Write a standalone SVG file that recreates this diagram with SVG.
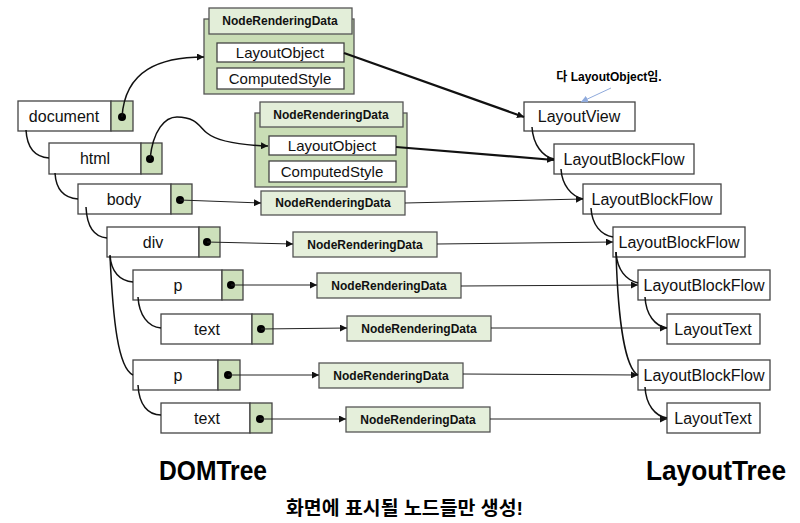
<svg xmlns="http://www.w3.org/2000/svg" width="800" height="523" viewBox="0 0 800 523">
<defs>
<marker id="arr" viewBox="0 0 10 10" refX="10" refY="5" markerWidth="7" markerHeight="7" markerUnits="userSpaceOnUse" orient="auto"><path d="M0,0 L10,5 L0,10 z" fill="#111"/></marker>
<marker id="arrB" viewBox="0 0 10 10" refX="10" refY="5" markerWidth="7" markerHeight="7" markerUnits="userSpaceOnUse" orient="auto"><path d="M0,0 L10,5 L0,10 z" fill="#8faadc"/></marker>
<style>
.w{fill:#fff;stroke:#444;stroke-width:1.3}
.g{fill:#cde0bb;stroke:#444;stroke-width:1.3}
.c{fill:#c9ddb5;stroke:#555;stroke-width:1.3}
.h{fill:#e3eed9;stroke:#555;stroke-width:1.3}
.n{fill:#e5efdb;stroke:#555;stroke-width:1.3}
.t{font-family:"Liberation Sans","Noto Sans",sans-serif;font-size:16px;fill:#111;text-anchor:middle}
.s{font-family:"Liberation Sans","Noto Sans",sans-serif;font-size:15px;fill:#111;text-anchor:middle}
.b{font-family:"Liberation Sans","Noto Sans",sans-serif;font-size:12px;font-weight:bold;fill:#111;text-anchor:middle}
.big{font-family:"Liberation Sans","Noto Sans",sans-serif;font-size:28px;font-weight:bold;fill:#000}
.k{font-family:"Liberation Sans","Noto Sans CJK KR",sans-serif;font-weight:bold;fill:#000}
.tree{fill:none;stroke:#111;stroke-width:1.5}
.ln{fill:none;stroke:#222;stroke-width:1}
.thick{fill:none;stroke:#111;stroke-width:2.2}
.dot{fill:#000}
</style>
</defs>

<!-- DOM tree nodes -->
<g id="dom-document"><rect class="w" x="18" y="101" width="93" height="30"/><rect class="g" x="111" y="101" width="22" height="30"/><text class="t" x="64" y="122">document</text><circle class="dot" cx="122" cy="117" r="4"/></g>
<g id="dom-html"><rect class="w" x="49" y="143" width="92" height="31"/><rect class="g" x="141" y="143" width="21" height="31"/><text class="t" x="95" y="164">html</text><circle class="dot" cx="150" cy="159" r="4"/></g>
<g id="dom-body"><rect class="w" x="78" y="184" width="93" height="30"/><rect class="g" x="171" y="184" width="21" height="30"/><text class="t" x="124" y="205">body</text><circle class="dot" cx="180" cy="200" r="4"/></g>
<g id="dom-div"><rect class="w" x="107" y="227" width="92" height="30"/><rect class="g" x="199" y="227" width="21" height="30"/><text class="t" x="153" y="248">div</text><circle class="dot" cx="207" cy="242" r="4"/></g>
<g id="dom-p1"><rect class="w" x="133" y="270" width="89" height="30"/><rect class="g" x="222" y="270" width="21" height="30"/><text class="t" x="178" y="291">p</text><circle class="dot" cx="231" cy="285" r="4"/></g>
<g id="dom-text1"><rect class="w" x="161" y="314" width="91" height="30"/><rect class="g" x="252" y="314" width="21" height="30"/><text class="t" x="207" y="335">text</text><circle class="dot" cx="261" cy="329" r="4"/></g>
<g id="dom-p2"><rect class="w" x="133" y="360" width="85" height="30"/><rect class="g" x="218" y="360" width="22" height="30"/><text class="t" x="178" y="381">p</text><circle class="dot" cx="228" cy="375" r="4"/></g>
<g id="dom-text2"><rect class="w" x="161" y="403" width="89" height="30"/><rect class="g" x="250" y="403" width="22" height="30"/><text class="t" x="207" y="424">text</text><circle class="dot" cx="260" cy="419" r="4"/></g>

<!-- NodeRenderingData -->
<g id="nrd-document"><rect class="c" x="204" y="19" width="150" height="75"/><rect class="h" x="209" y="8" width="143" height="26"/><text class="b" x="280" y="25">NodeRenderingData</text>
<rect class="w" x="217" y="43" width="127" height="19"/><text class="s" x="280" y="58">LayoutObject</text>
<rect class="w" x="217" y="68" width="127" height="21"/><text class="s" x="280" y="84">ComputedStyle</text></g>
<g id="nrd-html"><rect class="c" x="255" y="113" width="152" height="74"/><rect class="h" x="260" y="102" width="143" height="25"/><text class="b" x="331" y="119">NodeRenderingData</text>
<rect class="w" x="269" y="136" width="127" height="19"/><text class="s" x="332" y="151">LayoutObject</text>
<rect class="w" x="269" y="161" width="127" height="21"/><text class="s" x="332" y="177">ComputedStyle</text></g>
<g id="nrd-body"><rect class="n" x="261" y="191" width="144" height="24"/><text class="b" x="333" y="207">NodeRenderingData</text></g>
<g id="nrd-div"><rect class="n" x="293" y="232" width="144" height="25"/><text class="b" x="365" y="249">NodeRenderingData</text></g>
<g id="nrd-p1"><rect class="n" x="317" y="273" width="144" height="25"/><text class="b" x="389" y="290">NodeRenderingData</text></g>
<g id="nrd-text1"><rect class="n" x="347" y="316" width="144" height="25"/><text class="b" x="419" y="333">NodeRenderingData</text></g>
<g id="nrd-p2"><rect class="n" x="319" y="363" width="144" height="25"/><text class="b" x="391" y="380">NodeRenderingData</text></g>
<g id="nrd-text2"><rect class="n" x="346" y="407" width="144" height="25"/><text class="b" x="418" y="424">NodeRenderingData</text></g>

<!-- Layout tree -->
<g id="lt-view"><rect class="w" x="524" y="102" width="111" height="29"/><text class="t" x="579" y="122">LayoutView</text></g>
<g id="lt-block1"><rect class="w" x="554" y="144" width="140" height="30"/><text class="t" x="624" y="165">LayoutBlockFlow</text></g>
<g id="lt-block2"><rect class="w" x="583" y="184" width="138" height="30"/><text class="t" x="652" y="205">LayoutBlockFlow</text></g>
<g id="lt-block3"><rect class="w" x="613" y="227" width="132" height="30"/><text class="t" x="679" y="248">LayoutBlockFlow</text></g>
<g id="lt-block4"><rect class="w" x="638" y="270" width="132" height="30"/><text class="t" x="704" y="291">LayoutBlockFlow</text></g>
<g id="lt-text1"><rect class="w" x="667" y="314" width="93" height="30"/><text class="t" x="713" y="335">LayoutText</text></g>
<g id="lt-block5"><rect class="w" x="638" y="360" width="132" height="30"/><text class="t" x="704" y="381">LayoutBlockFlow</text></g>
<g id="lt-text2"><rect class="w" x="667" y="403" width="93" height="30"/><text class="t" x="713" y="424">LayoutText</text></g>

<!-- connectors -->
<g id="connectors">
<path class="tree" d="M26,130 C27,148 35,157 49,158"/>
<path class="tree" d="M55,173 C56,190 64,198 78,199"/>
<path class="tree" d="M86,207 C87,228 95,237 107,238"/>
<path class="tree" d="M110,255 C111,272 120,281 133,282"/>
<path class="tree" d="M110,256 C113,320 118,368 133,375"/>
<path class="tree" d="M138,297 C139,315 148,327 161,328"/>
<path class="tree" d="M138,385 C139,405 148,415 161,415"/>

<path class="tree" d="M122,117 C125,70 160,57 204,57" marker-end="url(#arr)"/>
<path class="tree" d="M150,159 C153,130 165,117 177,117 C197,117 200,128 207,133 C218,142 240,145 268,146" marker-end="url(#arr)"/>
<path class="ln" d="M180,200 L261,203" marker-end="url(#arr)"/>
<path class="ln" d="M207,242 L293,244" marker-end="url(#arr)"/>
<path class="ln" d="M231,285 L317,285" marker-end="url(#arr)"/>
<path class="ln" d="M261,329 L347,328" marker-end="url(#arr)"/>
<path class="ln" d="M228,375 L319,375" marker-end="url(#arr)"/>
<path class="ln" d="M260,419 L346,419" marker-end="url(#arr)"/>

<path class="thick" d="M344,53 L524,117" marker-end="url(#arr)"/>
<path class="thick" d="M396,147 L554,160" marker-end="url(#arr)"/>
<path class="ln" d="M405,203 L583,199" marker-end="url(#arr)"/>
<path class="ln" d="M437,244 L613,242" marker-end="url(#arr)"/>
<path class="ln" d="M461,286 L638,285" marker-end="url(#arr)"/>
<path class="ln" d="M491,328 L667,328" marker-end="url(#arr)"/>
<path class="ln" d="M463,374 L638,375" marker-end="url(#arr)"/>
<path class="ln" d="M490,419 L667,419" marker-end="url(#arr)"/>

<path class="tree" d="M532,127 C533,145 543,157 554,159"/>
<path class="tree" d="M561,169 C562,185 571,196 583,199"/>
<path class="tree" d="M591,208 C592,225 601,235 613,237"/>
<path class="tree" d="M616,252 C617,270 626,280 638,283"/>
<path class="tree" d="M616,252 C618,320 625,368 638,375"/>
<path class="tree" d="M645,297 C646,315 655,326 667,328"/>
<path class="tree" d="M645,387 C646,405 655,416 667,418"/>

<path fill="none" stroke="#8faadc" stroke-width="1" d="M611,88 L581,102" marker-end="url(#arrB)"/>
</g>

<!-- labels -->
<text class="k" x="609" y="81" font-size="12" text-anchor="middle">다 LayoutObject임.</text>
<text class="big" x="159" y="480" textLength="108" lengthAdjust="spacingAndGlyphs">DOMTree</text>
<text class="big" x="646" y="480" textLength="140" lengthAdjust="spacingAndGlyphs">LayoutTree</text>
<text class="k" x="286" y="515" font-size="19" textLength="237" lengthAdjust="spacingAndGlyphs">화면에 표시될 노드들만 생성!</text>
</svg>
